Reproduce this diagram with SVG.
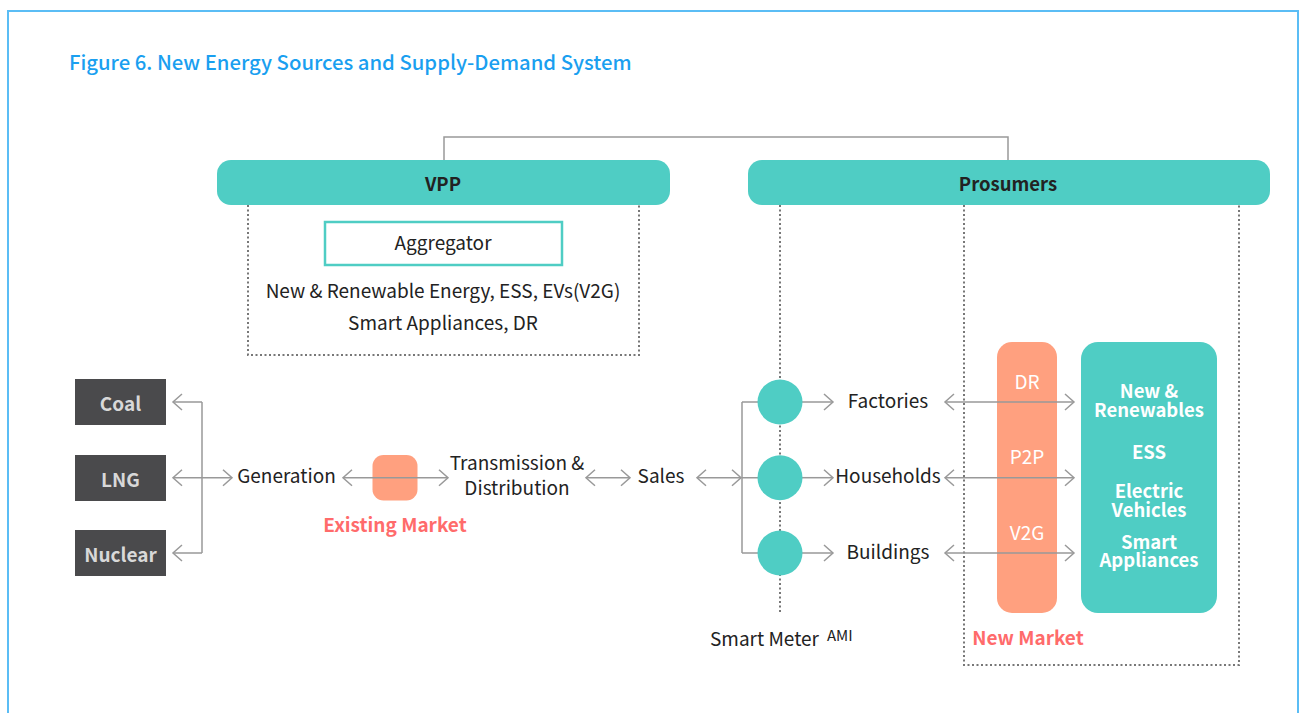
<svg xmlns="http://www.w3.org/2000/svg" width="1300" height="713" viewBox="0 0 1300 713">
<defs>
<marker id="ah" markerUnits="userSpaceOnUse" markerWidth="20" markerHeight="20" viewBox="-12 -10 14 20" refX="0" refY="0" orient="auto-start-reverse">
<path d="M-9,-8 L0,0 L-9,8" fill="none" stroke="#999" stroke-width="1.5"/>
</marker>
</defs>
<style>
text{font-family:"Noto Sans CJK KR","Noto Sans",sans-serif;}
.t{font-size:19px;fill:#222;}
.b{font-weight:bold;font-size:18.5px;}
.w{fill:#fff;}
.teal{fill:#4fcdc4;}
.ln{fill:none;stroke:#999;stroke-width:1.5;}
.ar{fill:none;stroke:#999;stroke-width:1.5;marker-start:url(#ah);marker-end:url(#ah);}
.ae{fill:none;stroke:#999;stroke-width:1.5;marker-end:url(#ah);}
.dot{fill:none;stroke:#777;stroke-width:2;stroke-dasharray:2 2.5;}
.src{fill:#4a4a4c;}
.srct{font-size:19px;font-weight:bold;fill:#d8d8d8;}
.red{font-size:19px;font-weight:bold;fill:#ff6b6b;}
</style>
<rect x="0" y="0" width="1300" height="713" fill="#fff"/>
<rect x="8" y="11" width="1290" height="720" fill="#fff" stroke="#5bbdf5" stroke-width="2"/>
<text x="69" y="70" style="font-size:20.3px;font-weight:500;fill:#1a9ff0">Figure 6. New Energy Sources and Supply-Demand System</text>

<g id="connectors">
<path class="ln" d="M444,160 V137 H1008 V160"/>
<path class="dot" d="M248,205 V355 H639 V205"/>
<path class="dot" d="M780,205 V614"/>
<path class="dot" d="M964,205 V665 H1239 V205"/>
<path class="ae" d="M202,402 H173"/>
<path class="ae" d="M202,553 H173"/>
<path class="ln" d="M202,402 V553"/>
<path class="ar" d="M173,477.7 H232"/>
<path class="ar" d="M586,477.7 H630"/>
<path class="ar" d="M697,477.7 H741"/>
<path class="ln" d="M742,402 V553"/>
<path class="ln" d="M742,402 H760 M742,477.7 H760 M742,553 H760"/>
<path class="ae" d="M802,402 H833"/>
<path class="ae" d="M802,477.7 H833"/>
<path class="ae" d="M802,553 H833"/>
</g>

<g id="vpp">
<rect class="teal" x="217" y="160" width="453" height="45" rx="14"/>
<text class="t b" x="443" y="191" text-anchor="middle">VPP</text>
</g>
<g id="aggregator">
<rect x="325" y="222" width="237" height="43" fill="#fff" stroke="#4fcdc4" stroke-width="2.5"/>
<text class="t" x="443" y="250" text-anchor="middle">Aggregator</text>
<text class="t" x="443" y="298" text-anchor="middle">New &amp; Renewable Energy, ESS, EVs(V2G)</text>
<text class="t" x="443" y="330" text-anchor="middle">Smart Appliances, DR</text>
</g>
<g id="prosumers">
<rect class="teal" x="748" y="160" width="522" height="45" rx="14"/>
<text class="t b" x="1008" y="191" text-anchor="middle">Prosumers</text>
</g>

<g id="coal"><rect class="src" x="75" y="379" width="91" height="46"/><text class="srct" x="120.5" y="411" text-anchor="middle">Coal</text></g>
<g id="lng"><rect class="src" x="75" y="455" width="91" height="46"/><text class="srct" x="120.5" y="487" text-anchor="middle">LNG</text></g>
<g id="nuclear"><rect class="src" x="75" y="530" width="91" height="46"/><text class="srct" x="120.5" y="562" text-anchor="middle">Nuclear</text></g>

<g id="generation"><text class="t" x="286.5" y="483" text-anchor="middle">Generation</text></g>
<g id="existing-market">
<rect x="372.5" y="455" width="45" height="45.5" rx="11" fill="#ffa07f"/>
<path class="ar" d="M343,477.7 H448"/>
<text class="red" x="395" y="532" text-anchor="middle">Existing Market</text>
</g>
<g id="td">
<text class="t" x="517" y="470" text-anchor="middle">Transmission &amp;</text>
<text class="t" x="517" y="495" text-anchor="middle">Distribution</text>
</g>
<g id="sales"><text class="t" x="661" y="483" text-anchor="middle">Sales</text></g>

<g id="smart-meter">
<circle class="teal" cx="780" cy="402" r="22.5"/>
<circle class="teal" cx="780" cy="477.7" r="22.5"/>
<circle class="teal" cx="780" cy="553" r="22.5"/>
<text class="t" x="710" y="646">Smart Meter<tspan style="font-size:15px" dx="8" dy="-5">AMI</tspan></text>
</g>

<g id="factories"><text class="t" x="888" y="408" text-anchor="middle">Factories</text></g>
<g id="households"><text class="t" x="888" y="483" text-anchor="middle">Households</text></g>
<g id="buildings"><text class="t" x="888" y="559" text-anchor="middle">Buildings</text></g>

<g id="new-market">
<rect x="997" y="342" width="60" height="271" rx="15" fill="#ffa07f"/>
<text class="t w" x="1027" y="389" text-anchor="middle">DR</text>
<text class="t w" x="1027" y="464" text-anchor="middle">P2P</text>
<text class="t w" x="1027" y="540" text-anchor="middle">V2G</text>
<text class="red" x="1028" y="645" text-anchor="middle">New Market</text>
</g>
<g id="resources">
<rect class="teal" x="1081" y="342" width="136" height="271" rx="17"/>
<text class="t b w" text-anchor="middle"><tspan x="1149" y="398">New &amp;</tspan><tspan x="1149" y="417">Renewables</tspan></text>
<text class="t b w" x="1149" y="459" text-anchor="middle">ESS</text>
<text class="t b w" text-anchor="middle"><tspan x="1149" y="498">Electric</tspan><tspan x="1149" y="517">Vehicles</tspan></text>
<text class="t b w" text-anchor="middle"><tspan x="1149" y="549">Smart</tspan><tspan x="1149" y="567">Appliances</tspan></text>
</g>
<g id="market-links">
<path class="ar" d="M945,402 H1074"/>
<path class="ar" d="M945,477.7 H1074"/>
<path class="ar" d="M945,553 H1074"/>
</g>
</svg>
